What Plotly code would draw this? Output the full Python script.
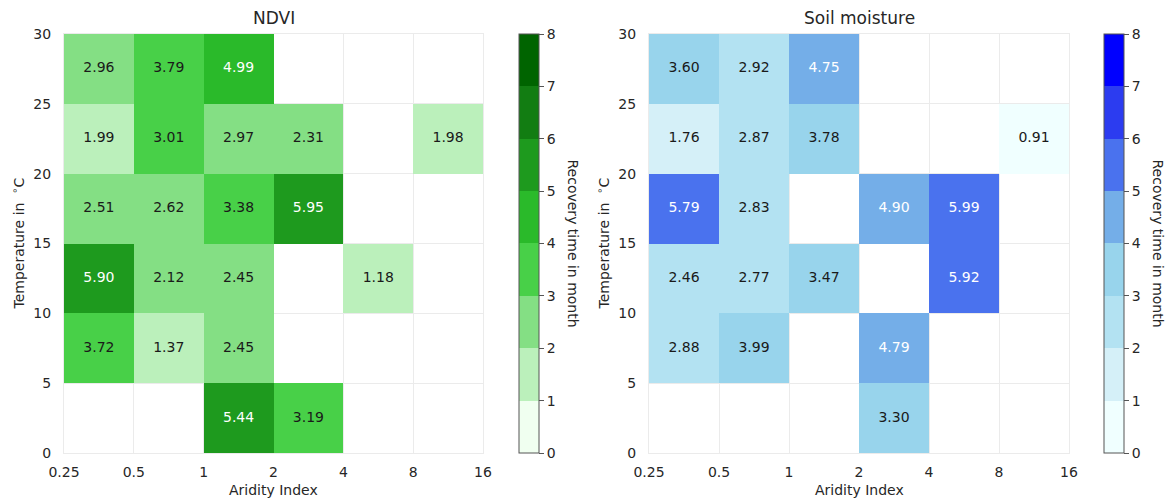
import math
import plotly.graph_objects as go

# Bin edges of the two binning variables
aridity_edges = [0.25, 0.5, 1, 2, 4, 8, 16]
aridity_labels = ["0.25", "0.5", "1", "2", "4", "8", "16"]
temperature_edges = [0, 5, 10, 15, 20, 25, 30]

# Recovery time in months, rows from the warmest bin (25-30) down to 0-5
ndvi_recovery = [
    [2.96, 3.79, 4.99, None, None, None],
    [1.99, 3.01, 2.97, 2.31, None, 1.98],
    [2.51, 2.62, 3.38, 5.95, None, None],
    [5.90, 2.12, 2.45, None, 1.18, None],
    [3.72, 1.37, 2.45, None, None, None],
    [None, None, 5.44, 3.19, None, None],
]
soil_recovery = [
    [3.60, 2.92, 4.75, None, None, None],
    [1.76, 2.87, 3.78, None, None, 0.91],
    [5.79, 2.83, None, 4.90, 5.99, None],
    [2.46, 2.77, 3.47, None, 5.92, None],
    [2.88, 3.99, None, 4.79, None, None],
    [None, None, None, 3.30, None, None],
]

green_levels = ["#f0fff0", "#bbf0bb", "#84df84", "#48d048",
                "#2aba2a", "#1e9a1e", "#127d12", "#006400"]
blue_levels = ["#f0ffff", "#d5f0f8", "#b3e2f2", "#98d4ec",
               "#74aee8", "#4a72ee", "#2c3cf0", "#0000ff"]

W, H = 1176, 504
FONT = "DejaVu Sans"
TXT = "#262626"
GRID = "#ebebeb"


def stepped(colors):
    n = len(colors)
    scale = []
    for i, c in enumerate(colors):
        scale.append([i / n, c])
        scale.append([(i + 1) / n, c])
    return scale


def px_x(p):
    return p / W


def px_y(p):
    return 1 - p / H


def label(text, x, y, size=14, angle=0):
    fig.add_annotation(text=text, x=px_x(x), y=px_y(y), xref="paper", yref="paper",
                       xanchor="center", yanchor="middle", textangle=angle,
                       showarrow=False, font=dict(family=FONT, size=size, color=TXT))


fig = go.Figure()

panels = [
    dict(name="NDVI", rows=ndvi_recovery, colors=green_levels,
         x0=64, x1=483, cb=519, cbt=573),
    dict(name="Soil moisture", rows=soil_recovery, colors=blue_levels,
         x0=649, x1=1069, cb=1104, cbt=1158),
]
top, bottom = 34, 453

centers_x = [math.sqrt(aridity_edges[i] * aridity_edges[i + 1])
             for i in range(len(aridity_edges) - 1)]
centers_y = [(temperature_edges[i] + temperature_edges[i + 1]) / 2
             for i in range(len(temperature_edges) - 1)]

for k, p in enumerate(panels):
    xa = "x" if k == 0 else "x2"
    ya = "y" if k == 0 else "y2"
    z = list(reversed(p["rows"]))  # bottom row first
    fig.add_trace(go.Heatmap(
        x=aridity_edges, y=temperature_edges, z=z,
        zmin=0, zmax=8, colorscale=stepped(p["colors"]),
        xaxis=xa, yaxis=ya, hoverongaps=False,
        colorbar=dict(
            x=px_x(p["cb"]), xanchor="left", xpad=0,
            y=px_y(bottom), yanchor="bottom", ypad=0,
            len=(bottom - top) / H, lenmode="fraction",
            thickness=20, thicknessmode="pixels",
            outlinecolor="#555555", outlinewidth=1,
            tickvals=list(range(9)), ticks="outside", ticklen=5,
            tickcolor="#555555", tickwidth=1,
            tickfont=dict(family=FONT, size=14, color=TXT),
        ),
    ))
    # value labels: light text on the dark bins, dark text elsewhere
    for light in (False, True):
        xs, ys, ts = [], [], []
        for r, row in enumerate(z):
            for c, v in enumerate(row):
                if v is None or (v >= 4) != light:
                    continue
                xs.append(centers_x[c])
                ys.append(centers_y[r])
                ts.append(f"{v:.2f}")
        fig.add_trace(go.Scatter(
            x=xs, y=ys, text=ts, mode="text", xaxis=xa, yaxis=ya,
            textfont=dict(family=FONT, size=14,
                          color="#ffffff" if light else "#1a1a1a"),
            hoverinfo="skip", showlegend=False,
        ))

    axis_common = dict(showgrid=True, gridcolor=GRID, gridwidth=1,
                       showline=True, linecolor=GRID, linewidth=1, mirror=True,
                       zeroline=False, ticks="outside", tickcolor="rgba(0,0,0,0)",
                       tickfont=dict(family=FONT, size=14, color=TXT))
    xkey = "xaxis" if k == 0 else "xaxis2"
    ykey = "yaxis" if k == 0 else "yaxis2"
    fig.update_layout({
        xkey: dict(axis_common, type="log",
                   range=[math.log10(aridity_edges[0]), math.log10(aridity_edges[-1])],
                   domain=[px_x(p["x0"]), px_x(p["x1"])], anchor=ya,
                   tickvals=aridity_edges, ticktext=aridity_labels, ticklen=6),
        ykey: dict(axis_common,
                   range=[temperature_edges[0], temperature_edges[-1]],
                   domain=[px_y(bottom), px_y(top)], anchor=xa,
                   tickvals=temperature_edges, ticklen=9),
    })

    cx = (p["x0"] + p["x1"]) / 2
    cy = (top + bottom) / 2
    label(p["name"], cx, 18, size=17)
    label("Aridity Index", cx, 490)
    label("Temperature in\u00a0\u00a0<sup>∘</sup>C", p["x0"] - 46, cy, angle=-90)
    label("Recovery time in month", p["cbt"], cy, angle=90)

fig.update_layout(
    width=W, height=H, margin=dict(l=0, r=0, t=0, b=0, autoexpand=False),
    paper_bgcolor="white", plot_bgcolor="white", showlegend=False,
)

fig.write_html("out.html")
